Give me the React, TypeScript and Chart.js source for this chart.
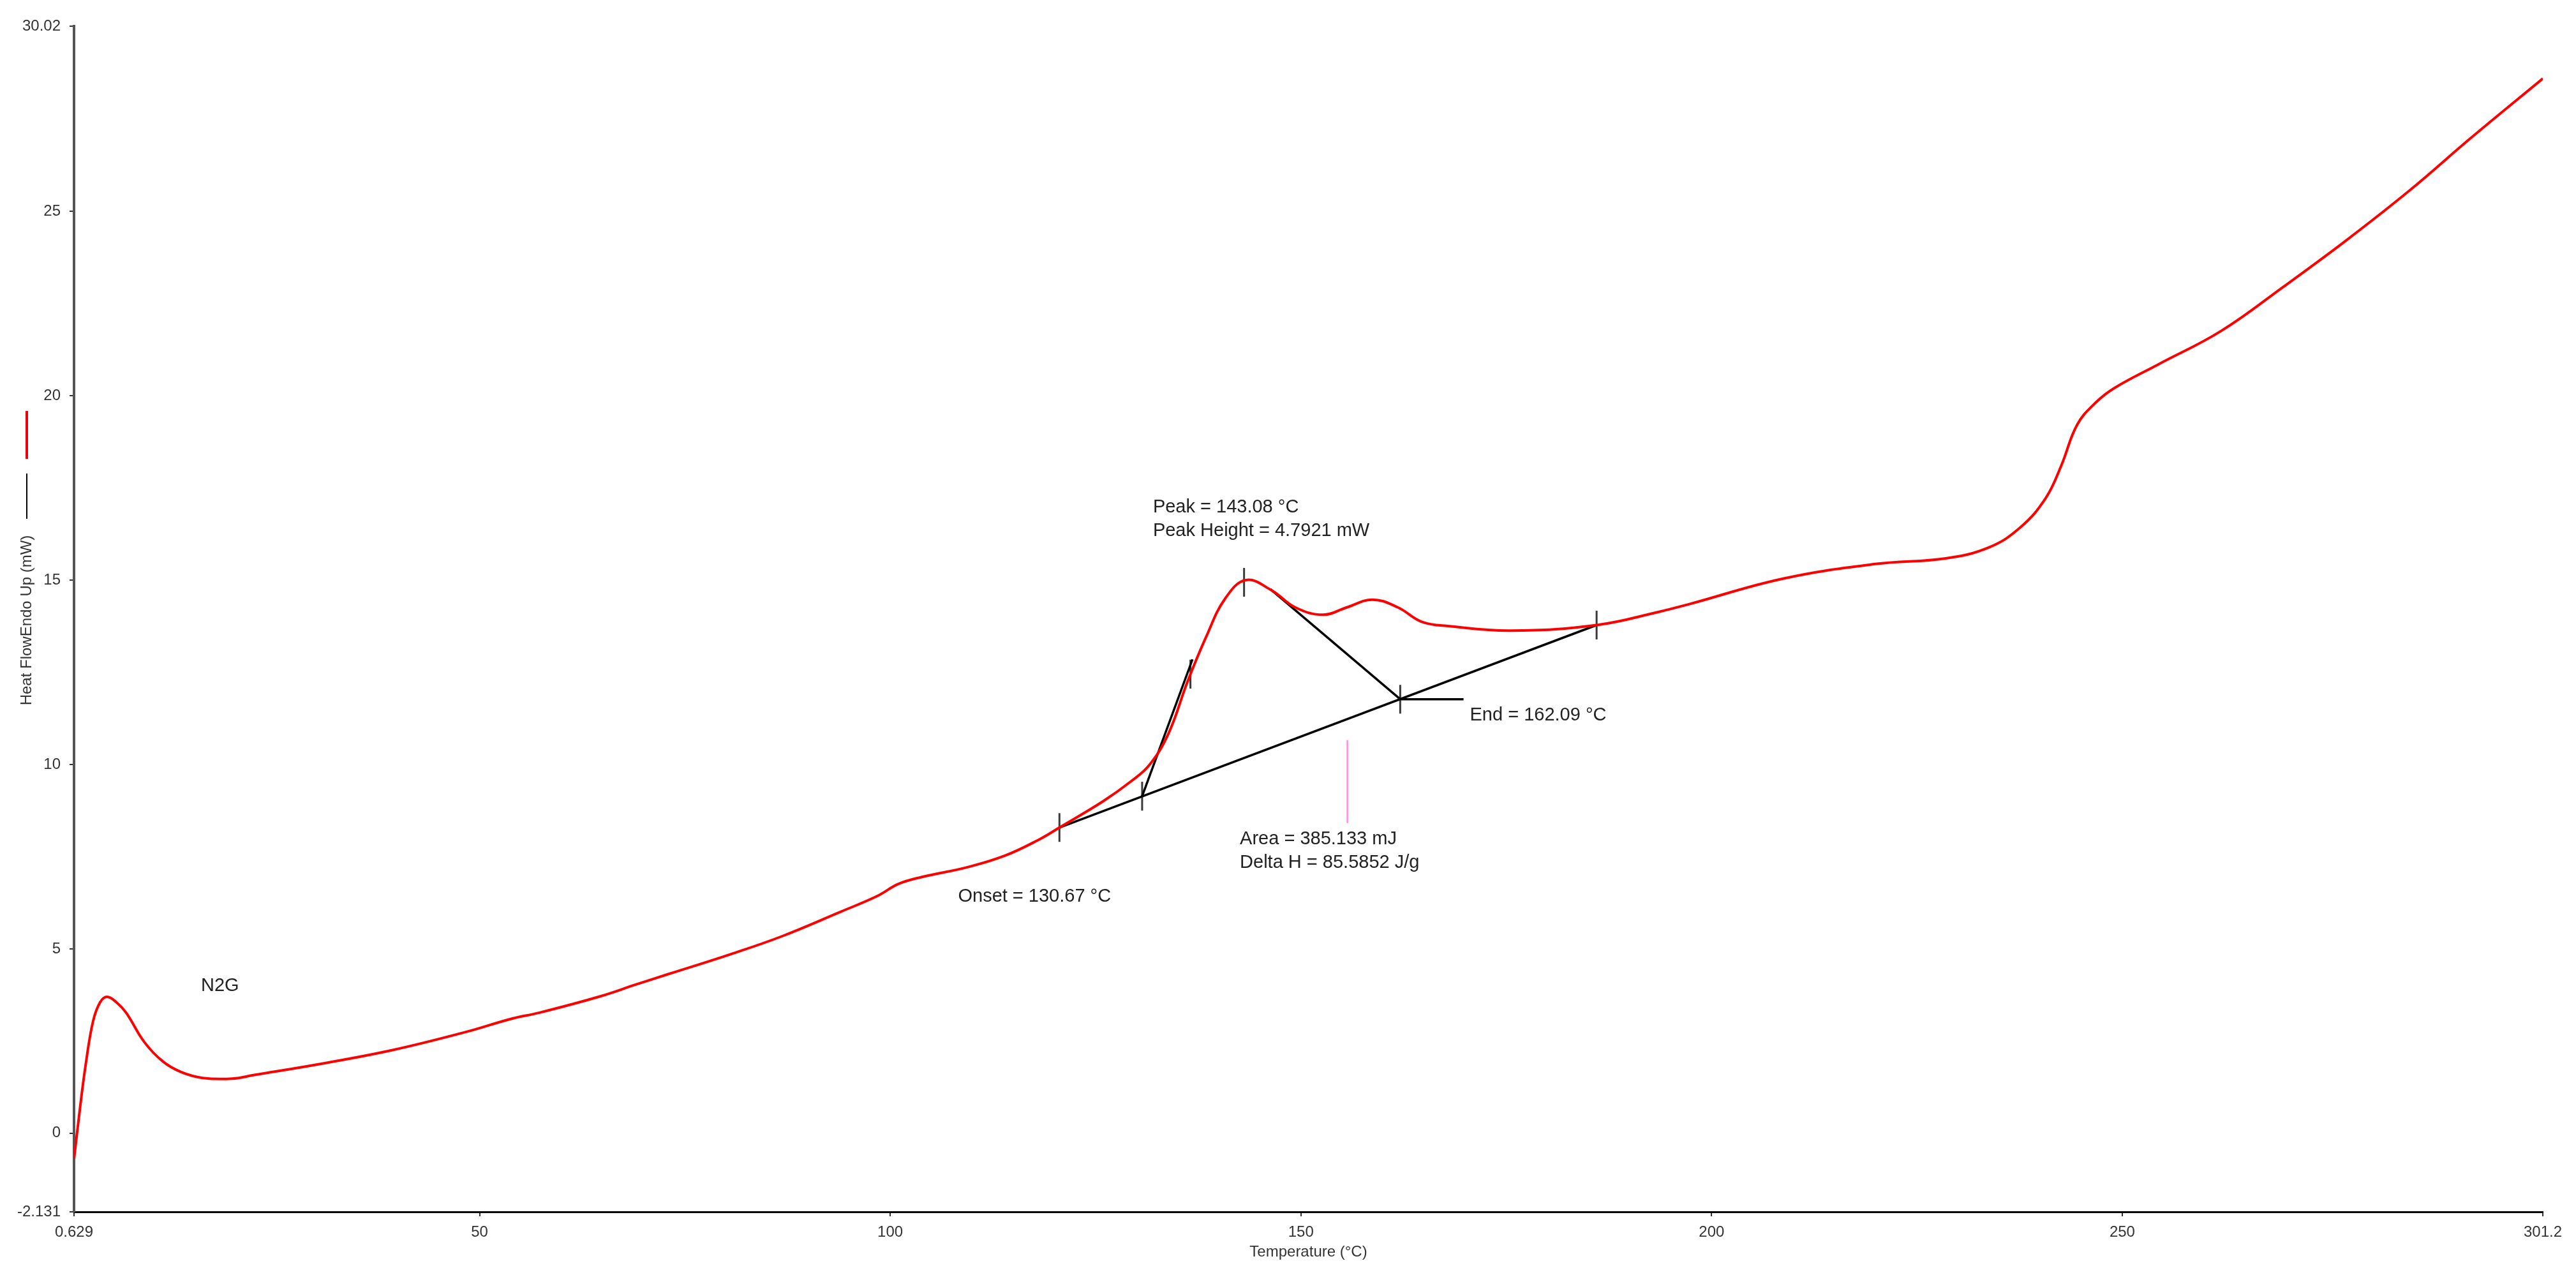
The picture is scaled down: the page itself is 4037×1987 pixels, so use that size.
import React, { useEffect, useRef } from 'react';
import { Chart, registerables } from 'chart.js';

Chart.register(...registerables);

// ---- DSC curve (Temperature °C vs Heat Flow mW) ----
const tempC = [
  0.629, 1.39, 2.06, 2.95, 3.8, 4.65, 5.8, 6.97, 9.2, 11.43, 13.66, 16.3, 19.9, 22.57,
  30.6, 39.5, 48.4, 53.8, 57.3, 64.5, 69.0, 72.9, 80.5, 86.8, 93.9, 98.4, 101.0, 103.7,
  109.5, 114.0, 118.0, 120.6, 125.9, 129.3, 131.6, 133.9, 136.2, 138.5, 140.75, 143.3,
  146.45, 149.3, 152.7, 155.6, 158.7, 161.8, 164.7, 168.1, 175.5, 186.0, 193.6, 197.3,
  208.7, 220.1, 228.5, 233.8, 237.6, 240.7, 242.6, 244.5, 246.75, 249.05, 254.4, 262.0,
  269.6, 277.2, 284.9, 292.5, 301.2,
];
const heatFlow = [
  -0.7, 0.74, 1.88, 3.04, 3.55, 3.7, 3.55, 3.27, 2.47, 1.95, 1.66, 1.5, 1.48, 1.58,
  1.88, 2.26, 2.75, 3.1, 3.27, 3.7, 4.03, 4.31, 4.85, 5.34, 6.0, 6.43, 6.76, 6.94,
  7.22, 7.53, 7.95, 8.29, 9.0, 9.54, 10.0, 10.85, 12.25, 13.48, 14.49, 15.0,
  14.72, 14.26, 14.06, 14.26, 14.47, 14.26, 13.87, 13.75, 13.63, 13.78, 14.14, 14.35,
  15.04, 15.44, 15.59, 15.89, 16.43, 17.23, 18.12, 19.21, 19.81, 20.21, 20.85, 21.75,
  22.95, 24.2, 25.55, 27.0, 28.6,
];

// ---- axes ----
const xTickValues = [0.629, 50, 100, 150, 200, 250, 301.2];
const xTickLabels = ['0.629', '50', '100', '150', '200', '250', '301.2'];
const yTickValues = [-2.131, 0, 5, 10, 15, 20, 25, 30.02];
const yTickLabels = ['-2.131', '0', '5', '10', '15', '20', '25', '30.02'];
const xTitle = 'Temperature (°C)';
const yTitle = 'Heat FlowEndo Up (mW)';

// ---- peak analysis construction (data units) ----
const baselineT = [120.6, 186.0];
const baselineV = [8.29, 13.78];
const tangentT = [130.67, 136.8];
const tangentV = [9.14, 12.85];
const peakEndT = [146.3, 162.09];
const peakEndV = [14.75, 11.77];
const endLineT = [162.09, 169.8];
const endLineV = [11.77, 11.77];
const areaMarkT = [155.66, 155.66];
const areaMarkV = [10.66, 8.41];
const tickMarkT = [120.6, 130.67, 136.55, 143.08, 162.09, 186.0];
const tickMarkV = [8.29, 9.14, 12.45, 14.94, 11.77, 13.78];
const tickHalf = 0.39;

// ---- text annotations (anchor = left end of text baseline, data units) ----
const labelTexts = [
  'Peak = 143.08 °C',
  'Peak Height = 4.7921 mW',
  'End = 162.09 °C',
  'Area = 385.133 mJ',
  'Delta H = 85.5852 J/g',
  'Onset = 130.67 °C',
  'N2G',
];
const labelT = [131.99, 131.99, 170.57, 142.57, 142.57, 108.26, 16.09];
const labelV = [16.83, 16.19, 11.2, 7.83, 7.19, 6.28, 3.86];

const FONT = '"Liberation Sans", Arial, Helvetica, sans-serif';

const pts = (ts: number[], vs: number[]) => ts.map((t, i) => ({ x: t, y: vs[i] }));

const textPlugin = {
  id: 'dscText',
  afterDraw(chart: any) {
    const ctx = chart.ctx as CanvasRenderingContext2D;
    const xs = chart.scales.x;
    const ys = chart.scales.y;
    const ca = chart.chartArea;
    ctx.save();
    ctx.fillStyle = '#222';
    ctx.font = `29px ${FONT}`;
    ctx.textAlign = 'left';
    ctx.textBaseline = 'alphabetic';
    labelTexts.forEach((t, i) => {
      ctx.fillText(t, xs.getPixelForValue(labelT[i]), ys.getPixelForValue(labelV[i]));
    });
    // axis titles
    ctx.font = `24px ${FONT}`;
    ctx.fillStyle = '#333';
    ctx.textAlign = 'center';
    ctx.textBaseline = 'middle';
    ctx.fillText(xTitle, (ca.left + ca.right) / 2, 1962);
    ctx.save();
    ctx.translate(42, (ca.top + ca.bottom) / 2 + 2);
    ctx.rotate(-Math.PI / 2);
    ctx.fillText(yTitle, 0, 0);
    ctx.restore();
    // series key marks beside the y title
    ctx.lineCap = 'butt';
    ctx.strokeStyle = '#e8000b';
    ctx.lineWidth = 4;
    ctx.beginPath();
    ctx.moveTo(42, 644);
    ctx.lineTo(42, 719);
    ctx.stroke();
    ctx.strokeStyle = '#000';
    ctx.lineWidth = 2;
    ctx.beginPath();
    ctx.moveTo(42, 742);
    ctx.lineTo(42, 813);
    ctx.stroke();
    ctx.restore();
  },
};

export default function App() {
  const ref = useRef<HTMLCanvasElement | null>(null);
  useEffect(() => {
    document.body.style.margin = '0';
    document.body.style.overflow = 'hidden';
    const canvas = ref.current;
    if (!canvas) return;

    const tickPts: any[] = [];
    tickMarkT.forEach((t, i) => {
      tickPts.push({ x: t, y: tickMarkV[i] - tickHalf });
      tickPts.push({ x: t, y: tickMarkV[i] + tickHalf });
      tickPts.push({ x: t, y: null });
    });

    const lineDs = (data: any[], color: string, width: number, order: number) => ({
      data,
      borderColor: color,
      backgroundColor: color,
      borderWidth: width,
      pointRadius: 0,
      tension: 0,
      fill: false,
      order,
    });

    const chart = new Chart(canvas, {
      type: 'line',
      data: {
        datasets: [
          {
            ...lineDs(pts(tempC, heatFlow), '#ff0000', 4, 0),
            tension: 0.4,
            borderJoinStyle: 'round',
          } as any,
          lineDs(pts(baselineT, baselineV), '#000', 3.5, 1),
          lineDs(pts(tangentT, tangentV), '#000', 3.5, 1),
          lineDs(pts(peakEndT, peakEndV), '#000', 3.5, 1),
          lineDs(pts(endLineT, endLineV), '#000', 3.5, 1),
          lineDs(pts(areaMarkT, areaMarkV), '#ff8fd8', 2.5, 1),
          lineDs(tickPts, '#3a3a3a', 3, 1),
        ],
      },
      options: {
        animation: false,
        responsive: false,
        devicePixelRatio: 1,
        layout: { padding: { top: 41, right: 52, bottom: 0, left: 0 } },
        plugins: { legend: { display: false }, tooltip: { enabled: false } },
        elements: { line: { borderCapStyle: 'butt' } },
        scales: {
          x: {
            type: 'linear',
            min: 0.629,
            max: 301.2,
            afterBuildTicks: (s: any) => {
              s.ticks = xTickValues.map((v) => ({ value: v }));
            },
            afterFit: (s: any) => {
              s.height = 88;
            },
            grid: {
              display: true,
              drawOnChartArea: false,
              drawTicks: true,
              tickLength: 7,
              color: '#333',
              lineWidth: 2,
            },
            border: { display: true, color: '#000', width: 3 },
            ticks: {
              autoSkip: false,
              maxRotation: 0,
              padding: 11,
              color: '#333',
              font: { family: FONT, size: 24 },
              callback: (_v: any, i: number) => xTickLabels[i],
            },
          },
          y: {
            type: 'linear',
            min: -2.131,
            max: 30.02,
            afterBuildTicks: (s: any) => {
              s.ticks = yTickValues.map((v) => ({ value: v }));
            },
            afterFit: (s: any) => {
              s.width = 116;
            },
            grid: {
              display: true,
              drawOnChartArea: false,
              drawTicks: true,
              tickLength: 7,
              color: '#333',
              lineWidth: 2,
            },
            border: { display: true, color: '#555', width: 4 },
            ticks: {
              autoSkip: false,
              padding: 14,
              color: '#333',
              font: { family: FONT, size: 24 },
              callback: (_v: any, i: number) => yTickLabels[i],
            },
          },
        },
      } as any,
      plugins: [textPlugin],
    });
    return () => chart.destroy();
  }, []);

  return (
    <canvas
      ref={ref}
      width={4037}
      height={1987}
      style={{ display: 'block', width: '4037px', height: '1987px', background: '#fff' }}
    />
  );
}
